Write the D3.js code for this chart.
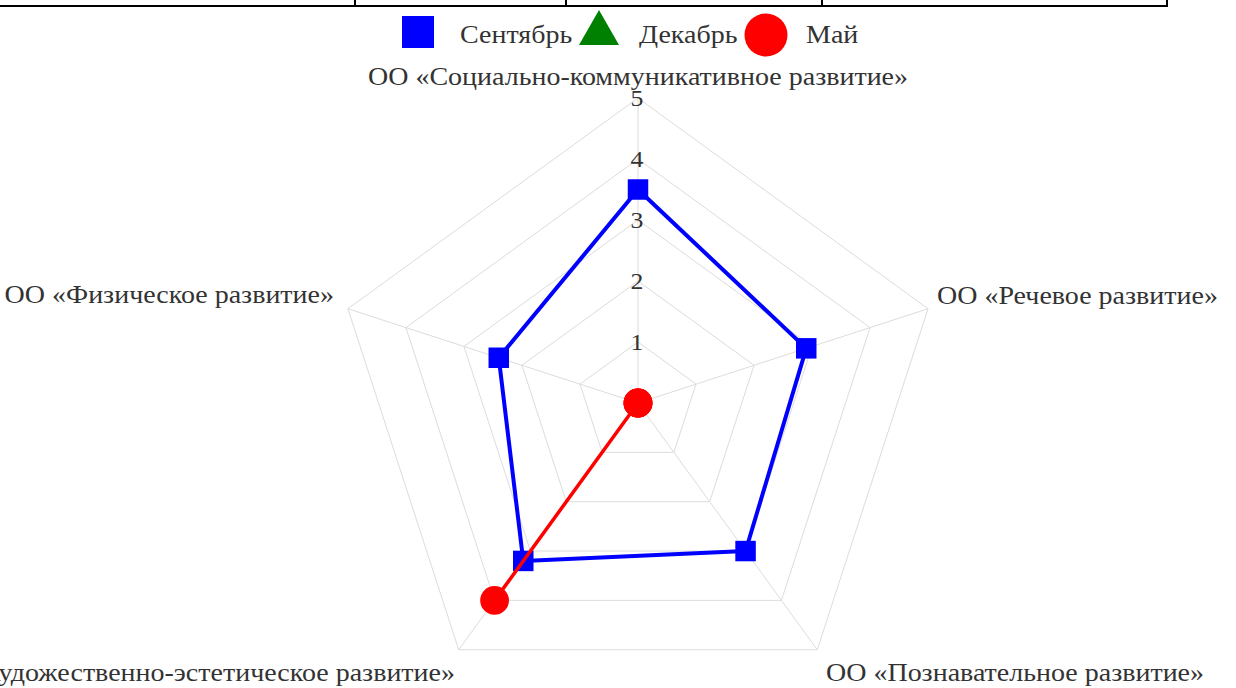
<!DOCTYPE html>
<html>
<head>
<meta charset="utf-8">
<script src="https://cdn.jsdelivr.net/npm/d3@7"></script>
<style>
  body { margin: 0; background: #fff; }
  text { font-family: "Liberation Serif", "DejaVu Serif", serif; fill: #333; }
</style>
</head>
<body>
<svg id="chart"></svg>
<script>
    // data
    var axes = [
        'ОО «Социально-коммуникативное развитие»',
        'ОО «Речевое развитие»',
        'ОО «Познавательное развитие»',
        'ОО «Художественно-эстетическое развитие»',
        'ОО «Физическое развитие»'
    ];
    var seriesNames = ['Сентябрь', 'Декабрь', 'Май'];
    var sentyabr = [3.5, 2.9, 3.0, 3.2, 2.4];
    var dekabr = [null, null, null, null, null];
    var may = [0, 0, 0, 4, 0];
    var ticks = [1, 2, 3, 4, 5];

    var width = 1236, height = 688;
    var cx = 638, cy = 403, R = 305;
    var stretch = 1.12; // the reference serif runs wider than Liberation Serif

    var svg = d3.select('#chart')
        .attr('width', width)
        .attr('height', height);

    // table border stub at the top
    var tableCols = [0, 355, 566, 822, 1167];
    svg.append('line')
        .attr('x1', 0).attr('x2', 1168).attr('y1', 6).attr('y2', 6)
        .attr('stroke', '#000').attr('stroke-width', 2);
    svg.selectAll('.tcol').data(tableCols.slice(1)).enter().append('line')
        .attr('x1', d => d).attr('x2', d => d).attr('y1', 0).attr('y2', 7)
        .attr('stroke', '#000').attr('stroke-width', 2);

    var r = d3.scaleLinear().domain([0, 5]).range([0, R]);
    var angle = function(i) { return -Math.PI / 2 + i * 2 * Math.PI / axes.length; };
    var pt = function(i, v) {
        return [cx + r(v) * Math.cos(angle(i)), cy + r(v) * Math.sin(angle(i))];
    };
    var place = function(x, y) { return 'translate(' + x + ',' + y + ') scale(' + stretch + ',1)'; };

    // grid
    var grid = svg.append('g');
    ticks.forEach(function(t) {
        grid.append('polygon')
            .attr('points', axes.map((a, i) => pt(i, t).join(',')).join(' '))
            .attr('fill', 'none').attr('stroke', '#dcdcdc').attr('stroke-width', 1);
    });
    axes.forEach(function(a, i) {
        var p = pt(i, 5);
        grid.append('line')
            .attr('x1', cx).attr('y1', cy).attr('x2', p[0]).attr('y2', p[1])
            .attr('stroke', '#dcdcdc').attr('stroke-width', 1);
    });

    // tick labels
    svg.selectAll('.tick').data(ticks).enter().append('text')
        .attr('transform', d => place(cx - 1, cy - r(d)))
        .attr('text-anchor', 'middle').attr('dominant-baseline', 'central')
        .style('font-size', '23px')
        .text(d => d);

    // axis labels
    var labelPos = [
        { x: cx, y: 85, anchor: 'middle' },
        { x: 937, y: 304, anchor: 'start' },
        { x: 826, y: 681, anchor: 'start' },
        { x: 455, y: 681, anchor: 'end' },
        { x: 334, y: 303, anchor: 'end' }
    ];
    svg.selectAll('.alabel').data(axes).enter().append('text')
        .attr('transform', (d, i) => place(labelPos[i].x, labelPos[i].y))
        .attr('text-anchor', (d, i) => labelPos[i].anchor)
        .style('font-size', '25px')
        .text(d => d);

    // series
    var line = d3.line()
        .x(d => pt(d.i, d.v)[0])
        .y(d => pt(d.i, d.v)[1])
        .curve(d3.curveLinearClosed);

    function drawSeries(vals, color, width, marker) {
        var pts = vals.map((v, i) => ({ i: i, v: v })).filter(d => d.v !== null);
        if (!pts.length) return;
        svg.append('path').datum(pts)
            .attr('d', line)
            .attr('fill', 'none').attr('stroke', color).attr('stroke-width', width)
            .attr('stroke-linejoin', 'round');
        svg.append('g').selectAll('path').data(pts).enter().append('path')
            .attr('transform', d => 'translate(' + pt(d.i, d.v) + ')')
            .attr('d', d3.symbol().type(marker.type).size(marker.size))
            .attr('fill', color);
    }
    drawSeries(sentyabr, '#0000ff', 4, { type: d3.symbolSquare, size: 420 });
    drawSeries(dekabr, '#008000', 4, { type: d3.symbolTriangle, size: 500 });
    drawSeries(may, '#ff0000', 3.5, { type: d3.symbolCircle, size: 650 });

    // legend
    var legend = svg.append('g');
    legend.append('rect').attr('x', 402).attr('y', 16).attr('width', 32).attr('height', 32).attr('fill', '#0000ff');
    legend.append('path').attr('d', 'M579,45L619,45L599,10Z').attr('fill', '#008000');
    legend.append('circle').attr('cx', 766).attr('cy', 35).attr('r', 21.5).attr('fill', '#ff0000');
    var legendX = [460, 639, 806];
    legend.selectAll('text').data(seriesNames).enter().append('text')
        .attr('transform', (d, i) => place(legendX[i], 43))
        .style('font-size', '25px')
        .text(d => d);
</script>
</body>
</html>
